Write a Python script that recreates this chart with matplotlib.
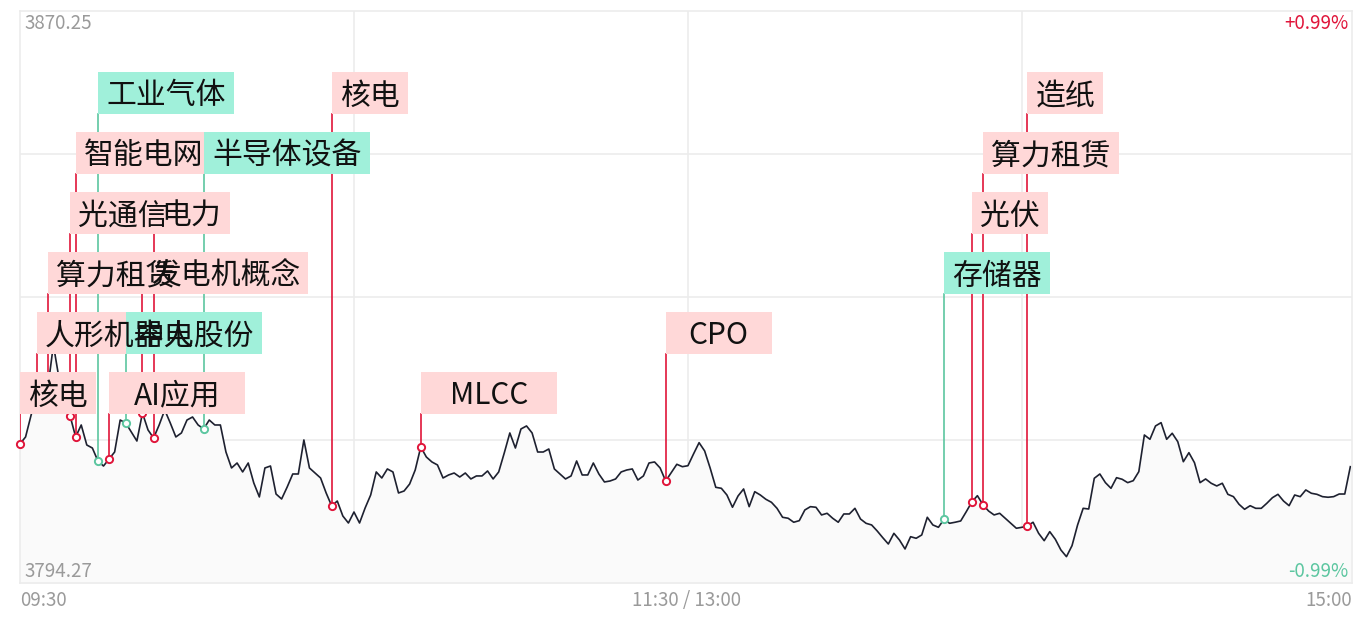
import matplotlib
matplotlib.use("Agg")
import matplotlib.pyplot as plt
from matplotlib.patches import Rectangle

plt.rcParams['font.family'] = ['Noto Sans CJK SC', 'DejaVu Sans']

# ---------------- data ----------------
prev_close = 3832.26
y_top = 3870.25
y_bottom = 3794.27
x_labels = ["09:30", "11:30 / 13:00", "15:00"]
pct_top = "+0.99%"
pct_bottom = "-0.99%"

prices = [
    3812.74, 3813.67, 3816.59, 3819.24, 3821.50, 3820.17, 3825.89, 3821.50, 3818.85, 3816.46,
    3813.67, 3815.26, 3812.60, 3812.20, 3810.48, 3809.81, 3810.74, 3811.67, 3815.92, 3815.52,
    3814.33, 3813.13, 3816.85, 3814.60, 3813.53, 3815.26, 3817.25, 3815.52, 3813.67, 3814.20,
    3815.92, 3816.32, 3815.26, 3814.73, 3815.92, 3815.26, 3815.26, 3811.67, 3809.55, 3810.21,
    3809.02, 3810.21, 3807.56, 3805.70, 3809.55, 3809.81, 3806.09, 3805.43, 3807.02, 3808.75,
    3808.75, 3813.27, 3809.55, 3808.88, 3808.22, 3806.23, 3804.50, 3805.16, 3803.17, 3802.24,
    3803.70, 3802.24, 3804.23, 3805.96, 3809.02, 3808.22, 3809.42, 3809.02, 3806.23, 3806.49,
    3807.42, 3809.28, 3812.34, 3811.01, 3810.35, 3809.95, 3808.22, 3808.62, 3808.88, 3808.35,
    3808.88, 3808.09, 3808.49, 3808.49, 3809.15, 3808.09, 3809.02, 3811.54, 3814.20, 3812.20,
    3814.73, 3815.13, 3814.20, 3811.67, 3811.67, 3812.07, 3809.42, 3808.75, 3808.09, 3808.49,
    3810.48, 3808.62, 3808.62, 3810.21, 3808.75, 3807.69, 3807.82, 3808.09, 3809.02, 3809.28,
    3809.42, 3807.95, 3808.49, 3810.21, 3810.35, 3809.55, 3807.82, 3808.92, 3810.04, 3809.72,
    3809.85, 3811.41, 3812.91, 3811.81, 3809.51, 3806.98, 3806.85, 3805.96, 3804.33, 3805.83,
    3806.76, 3804.41, 3806.40, 3805.96, 3805.39, 3804.99, 3804.19, 3803.00, 3802.87, 3802.34,
    3802.55, 3803.97, 3804.41, 3804.33, 3803.31, 3803.53, 3802.87, 3802.34, 3803.44, 3803.44,
    3804.19, 3802.77, 3802.20, 3801.98, 3801.18, 3800.29, 3799.45, 3800.87, 3799.98, 3798.79,
    3800.42, 3800.21, 3800.65, 3803.00, 3801.98, 3801.67, 3802.73, 3802.20, 3802.34, 3802.51,
    3803.74, 3805.03, 3805.87, 3804.67, 3803.84, 3803.31, 3803.53, 3802.87, 3802.20, 3801.54,
    3801.67, 3801.84, 3802.34, 3800.87, 3799.89, 3801.09, 3800.08, 3798.66, 3797.77, 3799.23,
    3801.98, 3804.19, 3804.10, 3808.18, 3808.75, 3807.60, 3806.85, 3808.26, 3808.05, 3807.60,
    3807.86, 3809.06, 3813.93, 3813.36, 3815.13, 3815.57, 3813.36, 3814.16, 3813.04, 3810.38,
    3811.58, 3810.25, 3807.60, 3808.09, 3807.52, 3807.16, 3807.52, 3806.05, 3805.74, 3804.73,
    3804.06, 3804.54, 3804.19, 3804.19, 3804.86, 3805.60, 3806.05, 3805.16, 3804.54, 3805.96,
    3805.74, 3806.63, 3806.19, 3806.05, 3805.74, 3805.66, 3805.74, 3806.09, 3806.09, 3809.72,
]

event_index = [0, 3, 5, 9, 10, 14, 16, 19, 22, 24, 33, 56, 72, 116, 166, 171, 173, 181]
event_label = ["核电", "人形机器人", "算力租赁", "光通信", "智能电网", "工业气体",
               "AI应用", "中电股份", "发电机概念", "电力", "半导体设备", "核电",
               "MLCC", "CPO", "存储器", "光伏", "算力租赁", "造纸"]
event_up = [True, True, True, True, True, False,
            True, False, True, True, False, True,
            True, True, False, True, True, True]

# ---------------- style ----------------
W, H = 1361, 627
L, T, R, B = 20, 11, 1352, 583
XMAX = 239.3
RED_LINE = "#e0153a"
GREEN_LINE = "#5cc6a0"
RED_BOX = "#ffd8d8"
GREEN_BOX = "#a0f0da"
GRID = "#ececec"
GRAY_TXT = "#9a9a9a"

fig = plt.figure(figsize=(W / 100, H / 100), dpi=100)
ax = fig.add_axes([L / W, (H - B) / H, (R - L) / W, (B - T) / H])
ax.set_xlim(0, XMAX)
ax.set_ylim(y_bottom, y_top)
ax.set_xticks([])
ax.set_yticks([])
for s in ax.spines.values():
    s.set_color(GRID)
    s.set_linewidth(1.2)

# grid
span = y_top - y_bottom
for k in (1, 2, 3):
    ax.axhline(y_bottom + span * k / 4, color=GRID, lw=1.2, zorder=0)
for m in (60, 120, 180):
    ax.axvline(m, color=GRID, lw=1.2, zorder=0)

xs = list(range(len(prices)))
ax.fill_between(xs, prices, y_bottom, color="#fafafa", zorder=1, lw=0)
ax.plot(xs, prices, color="#1e2130", lw=1.2, zorder=2)

# events
box_h = 42 / (B - T)
lvl_step = 60 / (B - T)
lvl0_bottom = (B - 414) / (B - T)
for i, (idx, lab, up) in enumerate(zip(event_index, event_label, event_up)):
    level = i % 6
    lc = RED_LINE if up else GREEN_LINE
    bc = RED_BOX if up else GREEN_BOX
    yb = lvl0_bottom + level * lvl_step
    yb_data = y_bottom + yb * span
    ax.plot([idx, idx], [prices[idx], yb_data], color=lc, lw=1.2, zorder=3)
    ax.plot(idx, prices[idx], marker="o", ms=5.2, mfc="white", mec=lc, mew=1.4,
            zorder=4, clip_on=False)
    xf = idx / XMAX
    wf = (30 * len(lab) + 16) / (R - L)
    ax.add_patch(Rectangle((xf, yb), wf, box_h, transform=ax.transAxes,
                           facecolor=bc, edgecolor="none", zorder=5, clip_on=False))
    ax.text(xf + wf / 2, yb + box_h / 2 - 3 / (B - T), lab, transform=ax.transAxes,
            ha="center", va="center", fontsize=21.5, color="#111111", zorder=6)

# axis texts
FS = 13.5
ax.text(4 / (R - L), 1 - 2 / (B - T), f"{y_top:.2f}", transform=ax.transAxes,
        ha="left", va="top", fontsize=FS, color=GRAY_TXT)
ax.text(4 / (R - L), 1 / (B - T), f"{y_bottom:.2f}", transform=ax.transAxes,
        ha="left", va="bottom", fontsize=FS, color=GRAY_TXT)
ax.text(1 - 4 / (R - L), 1 - 2 / (B - T), pct_top, transform=ax.transAxes,
        ha="right", va="top", fontsize=FS, color=RED_LINE)
ax.text(1 - 4 / (R - L), 1 / (B - T), pct_bottom, transform=ax.transAxes,
        ha="right", va="bottom", fontsize=FS, color=GREEN_LINE)

fy = -7 / (B - T)
ax.text(0, fy, x_labels[0], transform=ax.transAxes, ha="left", va="top",
        fontsize=FS, color=GRAY_TXT)
ax.text(0.5, fy, x_labels[1], transform=ax.transAxes, ha="center", va="top",
        fontsize=FS, color=GRAY_TXT)
ax.text(1, fy, x_labels[2], transform=ax.transAxes, ha="right", va="top",
        fontsize=FS, color=GRAY_TXT)

fig.savefig("out.png", dpi=100, facecolor="white")
